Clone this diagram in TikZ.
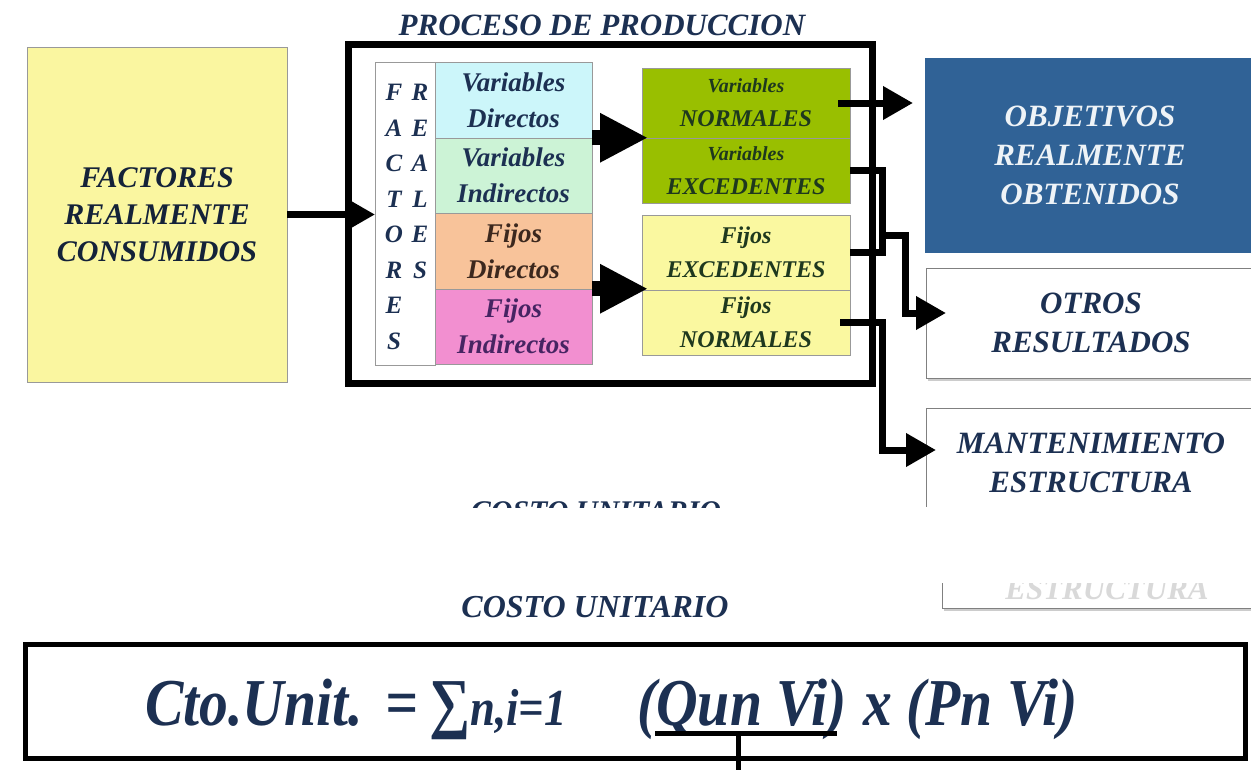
\documentclass[tikz,border=0pt]{standalone}
\usepackage{fontspec}
\setmainfont{Liberation Serif}
\newfontfamily\narrowserif[FakeStretch=0.86]{Liberation Serif}
\usetikzlibrary{shadows, arrows.meta, positioning}
\definecolor{my_yellow}{RGB}{250, 246, 160}
\definecolor{my_cyan}{RGB}{204, 246, 250}
\definecolor{my_mint}{RGB}{204, 243, 214}
\definecolor{my_peach}{RGB}{248, 195, 154}
\definecolor{my_pink}{RGB}{242, 143, 208}
\definecolor{my_green}{RGB}{153, 191, 0}
\definecolor{my_paleyellow}{RGB}{250, 248, 160}
\definecolor{my_blue}{RGB}{48, 98, 150}
\definecolor{my_navy}{RGB}{28, 48, 82}
\definecolor{my_darkgreen}{RGB}{30, 56, 30}
\definecolor{my_brown}{RGB}{60, 40, 30}
\definecolor{my_violet}{RGB}{70, 36, 98}
\tikzset {
  box/.style = {draw=gray!80, thin, rectangle, inner sep=0pt, outer sep=0pt, align=center},
  frame/.style = {draw, line width=7pt, rectangle, inner sep=0pt, minimum width=524pt, minimum height=339pt},
  cell/.style = {box, minimum width=157pt, minimum height=75.5pt, font=\bfseries\itshape\fontsize{27}{36}\selectfont},
  result/.style = {box, minimum width=208pt, text=my_darkgreen, font=\bfseries\itshape\fontsize{24}{34}\selectfont},
  outbox/.style = {box, draw=gray, minimum width=330pt, font=\bfseries\itshape\fontsize{31}{39}\selectfont},
  letter/.style = {text=my_navy, font=\bfseries\itshape\fontsize{25}{25}\selectfont, inner sep=0pt, anchor=base},
  formula/.style = {text=my_navy, inner sep=0pt, font=\narrowserif\bfseries\itshape\fontsize{67}{67}\selectfont},
  line/.style = {line width=7pt, -{Triangle[length=30pt, width=32pt]}},
  wire/.style = {line width=7pt},
  bigarrow/.style = {line width=15pt, shorten >=-6pt, -{Triangle[length=48pt, width=46pt]}},
  stub/.style = {line width=5pt}
}

\begin{document}
\begin{tikzpicture}[x=1pt, y=-1pt]
    \useasboundingbox (0,0) rectangle (1251,769);

    \node[box, fill=my_yellow, minimum width=260pt, minimum height=335pt, text=my_navy!70!black, font=\bfseries\itshape\fontsize{30}{37}\selectfont] (factores) at (157,214.5) {FACTORES\\REALMENTE\\CONSUMIDOS};
    \node[text=my_navy, font=\bfseries\itshape\fontsize{31}{31}\selectfont, anchor=base] (titulo) at (602,35) {PROCESO DE PRODUCCION};
    \node[frame] (proceso) at (610,213.5) {};

    \node[box, fill=white, minimum width=60pt, minimum height=303pt] (reales) at (405,213.5) {};
    \foreach \l [count=\i] in {F,A,C,T,O,R,E,S}
      \node[letter] (fac\i) at (394,65+35.5*\i) {\l};
    \foreach \l [count=\i] in {R,E,A,L,E,S}
      \node[letter] (rea\i) at (420,65+35.5*\i) {\l};

    \node[cell, fill=my_cyan, text=my_navy] (vardir) at (513.5,100) {Variables\\Directos};
    \node[cell, fill=my_mint, text=my_navy, below=0pt of vardir] (varind) {Variables\\Indirectos};
    \node[cell, fill=my_peach, text=my_brown, below=0pt of varind] (fijdir) {Fijos\\Directos};
    \node[cell, fill=my_pink, text=my_violet, below=0pt of fijdir] (fijind) {Fijos\\Indirectos};

    \node[result, fill=my_green, minimum height=70pt] (varnor) at (746,103) {{\fontsize{20}{20}\selectfont Variables}\\NORMALES};
    \node[result, fill=my_green, minimum height=65pt, below=0pt of varnor] (varexc) {{\fontsize{20}{20}\selectfont Variables}\\EXCEDENTES};
    \node[result, fill=my_paleyellow, minimum height=75pt] (fijexc) at (746,252.5) {Fijos\\EXCEDENTES};
    \node[result, fill=my_paleyellow, minimum height=65pt, below=0pt of fijexc] (fijnor) {Fijos\\NORMALES};

    \node[outbox, fill=my_blue, draw=my_blue, text=white!92!my_blue, minimum height=194pt] (objetivos) at (1090,155) {OBJETIVOS\\REALMENTE\\OBTENIDOS};
    \node[outbox, fill=white, text=my_navy, minimum height=110pt, drop shadow={opacity=0.4, shadow xshift=2pt, shadow yshift=-3pt}] (otros) at (1091,323) {OTROS\\RESULTADOS};
    \begin{scope}
      \clip (900,390) rectangle (1260,506);
      \node[outbox, fill=white, text=my_navy, minimum height=110pt] (mant) at (1091,463) {MANTENIMIENTO\\ESTRUCTURA};
    \end{scope}

    % flechas del proceso
    \draw[line] (factores.east) -- (factores.east -| reales.west);
    \draw[bigarrow] (vardir.south east) -- (vardir.south east -| varnor.west);
    \draw[bigarrow] (fijdir.south east) -- (fijdir.south east -| fijexc.west);

    \coordinate (ramaA) at (882,235);
    \coordinate (ramaB) at (905,235);
    \coordinate (ramaC) at (882,450);
    \draw[line] ([xshift=-12pt]varnor.east) -- ([xshift=-12pt]varnor.east -| objetivos.west);
    \draw[line] (varexc.east) -| (ramaA) -- (ramaB) |- ([xshift=20pt, yshift=10pt]otros.west);
    \draw[wire] (fijexc.east) -| (ramaA);
    \draw[line] ([xshift=-10pt]fijnor.east) -| (ramaC) -- ([xshift=10pt, yshift=13pt]mant.west);

    % parte recortada
    \begin{scope}
      \clip (440,490) rectangle (760,507);
      \node[text=my_navy, font=\bfseries\itshape\fontsize{30}{30}\selectfont, anchor=base] (costoarriba) at (596,521) {COSTO UNITARIO};
    \end{scope}
    \begin{scope}
      \clip (930,583) rectangle (1260,615);
      \node[outbox, fill=white, text=gray!30, minimum height=110pt, font=\bfseries\itshape\fontsize{31}{72}\selectfont, drop shadow={opacity=0.4, shadow xshift=2pt, shadow yshift=-3pt}] (mantcopia) at (1107,553) {MANTENIMIENTO\\ESTRUCTURA};
    \end{scope}

    % costo unitario
    \node[text=my_navy, font=\bfseries\itshape\fontsize{32}{32}\selectfont, anchor=base] (costo) at (595,617) {COSTO UNITARIO};
    \node[draw, line width=5pt, minimum width=1220pt, minimum height=114pt] (costobox) at (635,701) {};
    \node[formula, anchor=base west] (cto) at (145,725) {Cto.Unit.\,\,=\,∑{\fontsize{52}{52}\selectfont n,i=1}};
    \node[formula, anchor=base west] (qun) at (637,725) {(Qun Vi)};
    \node[formula, anchor=base west] (pn) at (863,725) {x (Pn Vi)};
    \coordinate (subrayado) at ([yshift=-8pt]qun.base);
    \coordinate (pie) at (738,772);
    \draw[stub] ([xshift=18pt, yshift=-8pt]qun.base west) -- ([xshift=-10pt, yshift=-8pt]qun.base east);
    \draw[stub] (subrayado -| pie) -- (pie);

\end{tikzpicture}
\end{document}
